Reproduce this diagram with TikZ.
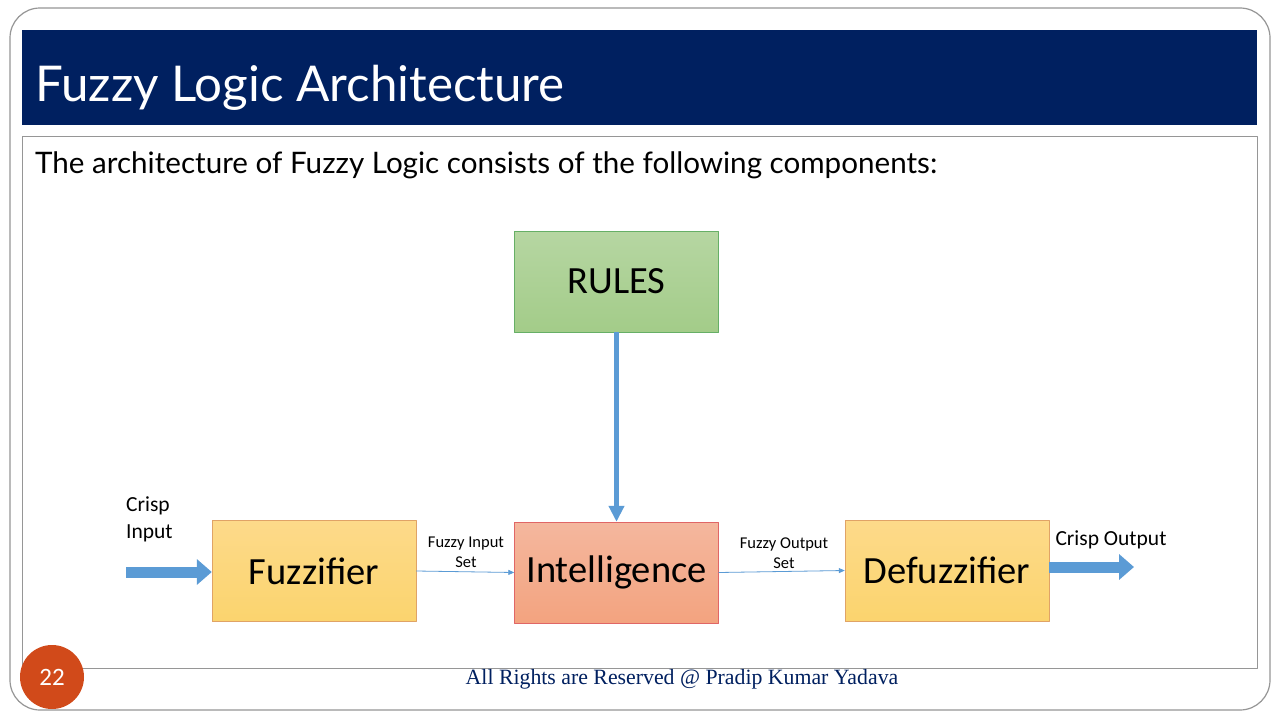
\documentclass[tikz,border=0pt]{standalone}
\usepackage{fontspec}
\setmainfont{Carlito}
\newfontfamily\headfont{Lato}
\newfontfamily\footfont{Liberation Serif}
\usetikzlibrary{arrows.meta,shadings}

\definecolor{navy}{RGB}{0,32,96}
\definecolor{arrowblue}{RGB}{91,155,213}
\definecolor{framegray}{RGB}{150,150,150}
\definecolor{pagered}{RGB}{209,74,26}

\begin{document}
\begin{tikzpicture}[x=1pt,y=-1pt,line join=round,
    block/.style={draw=#1!80!black!60, minimum width=204pt, minimum height=101pt,
      inner sep=0pt, font=\fontsize{38.5}{42}\selectfont},
    fatarrow/.style={arrowblue, line width=11pt, -{Triangle[length=15pt,width=25pt]}},
    thinarrow/.style={arrowblue, line width=0.8pt, -{Triangle[length=6pt,width=5pt]}},
    smalllabel/.style={font=\fontsize{16.5}{20}\selectfont, align=center, inner sep=0pt},
    crisplabel/.style={font=\fontsize{21.5}{27}\selectfont, align=left, inner sep=0pt}]
  \useasboundingbox (0,0) rectangle (1280,720);
  \fill[white] (0,0) rectangle (1280,720);

  % slide frame, title band and content box
  \draw[framegray, line width=1.2pt, rounded corners=30pt] (10,8) rectangle (1270,710);
  \fill[navy] (22,30) rectangle (1257,125);
  \draw[framegray, line width=1pt] (22,136) rectangle (1257,668);
  \node[anchor=base west, inner sep=0pt, text=white,
        font=\headfont\fontsize{49.3}{54}\selectfont] (title) at (35,101) {Fuzzy Logic Architecture};
  \node[anchor=base west, inner sep=0pt,
        font=\headfont\fontsize{29.6}{34}\selectfont] (intro) at (35,173)
        {The architecture of Fuzzy Logic consists of the following components:};

  % the four blocks
  \node[block=green!60!black, top color={rgb,255:red,182;green,214;blue,162},
        bottom color={rgb,255:red,163;green,204;blue,137}] (rules) at (616.5,281.5) {RULES};
  \node[block=orange, top color={rgb,255:red,253;green,218;blue,138},
        bottom color={rgb,255:red,251;green,212;blue,110}] (fuzz) at (314,571) {Fuzzifier};
  \node[block=red, top color={rgb,255:red,244;green,183;blue,158},
        bottom color={rgb,255:red,243;green,163;blue,127}] (intel) at (616.5,572.5) {Intelligence};
  \node[block=orange, top color={rgb,255:red,253;green,218;blue,138},
        bottom color={rgb,255:red,251;green,212;blue,110}] (defuzz) at (947,570.5) {Defuzzifier};

  % free ends of the crisp arrows
  \coordinate (cin) at (126,572);
  \coordinate (cout) at (1134,567);

  % connectors
  \draw[fatarrow] (cin) -- (fuzz.west |- cin);
  \draw[fatarrow] (defuzz.east |- cout) -- (cout);
  \draw[arrowblue, line width=5pt, -{Triangle[length=16pt,width=15pt]}] (rules.south) -- (intel.north);
  \draw[thinarrow] (fuzz.east) -- (intel.west);
  \draw[thinarrow] (intel.east) -- (defuzz.west);

  % connector labels
  \node[crisplabel, anchor=north west] (cinlabel) at (126,497) {Crisp\\Input};
  \node[crisplabel, anchor=base] (coutlabel) at (1111,545) {Crisp Output};
  \node[smalllabel] (fislabel) at (466,552) {Fuzzy Input\\Set};
  \node[smalllabel] (foslabel) at (784,553) {Fuzzy Output\\Set};

  % page number and footer
  \node[circle, fill=pagered, minimum size=64pt, inner sep=0pt, text=white,
        font=\fontsize{25}{27}\selectfont] (page) at (52,677) {22};
  \node[anchor=base, inner sep=0pt, text=navy, font=\footfont\fontsize{21.8}{25}\selectfont]
        (footer) at (682,684) {All Rights are Reserved @ Pradip Kumar Yadava};
\end{tikzpicture}
\end{document}
